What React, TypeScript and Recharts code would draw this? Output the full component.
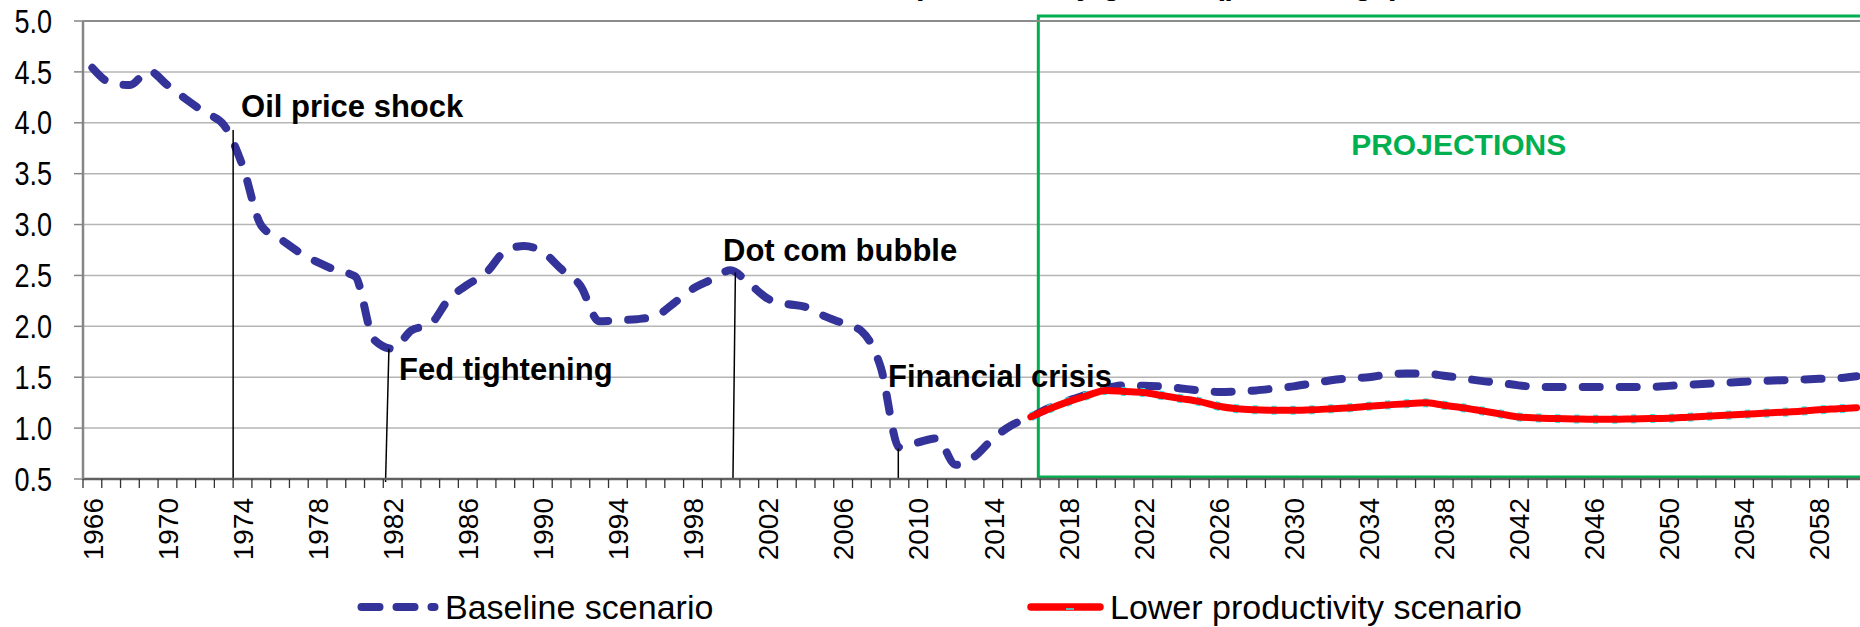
import { LineChart, Line, XAxis, YAxis, CartesianGrid, ReferenceArea, ReferenceLine, ReferenceDot, Legend } from "recharts"

// baseline labour productivity growth, one value per year from 1966
const baseline = [
    4.54, 4.39, 4.37, 4.51, 4.37, 4.23, 4.10, 3.98, 3.58, 2.99,
    2.86, 2.73, 2.63, 2.55, 2.49, 1.87, 1.78, 1.96, 2.02, 2.27,
    2.41, 2.53, 2.74, 2.79, 2.73, 2.56, 2.40, 2.05, 2.06, 2.07,
    2.10, 2.23, 2.37, 2.46, 2.55, 2.42, 2.27, 2.22, 2.19, 2.10,
    2.03, 1.95, 1.60, 0.81, 0.86, 0.90, 0.64, 0.72, 0.90, 1.03,
    1.11, 1.20, 1.27, 1.33, 1.39, 1.42, 1.415, 1.41, 1.39, 1.37,
    1.355, 1.36, 1.37, 1.39, 1.41, 1.44, 1.47, 1.49, 1.50, 1.527,
    1.537, 1.537, 1.515, 1.49, 1.464, 1.445, 1.42, 1.405, 1.405, 1.405,
    1.405, 1.405, 1.405, 1.405, 1.415, 1.425, 1.435, 1.445, 1.455, 1.464,
    1.47, 1.477, 1.484, 1.49, 1.51
]

// lower productivity scenario starts in 2016
const lowerStart = 2016
const lowerProductivity = [
    1.11, 1.19, 1.26, 1.32, 1.37, 1.36, 1.35, 1.32, 1.29, 1.26,
    1.215, 1.19, 1.18, 1.175, 1.175, 1.18, 1.19, 1.20, 1.215, 1.228,
    1.24, 1.248, 1.225, 1.20, 1.17, 1.14, 1.11, 1.10, 1.094, 1.09,
    1.087, 1.087, 1.09, 1.094, 1.097, 1.107, 1.117, 1.127, 1.136, 1.146,
    1.156, 1.166, 1.18, 1.19, 1.20
]

const firstYear = 1966
const years = baseline.map((_, i) => firstYear + i)
const yTicks = [0.5, 1.0, 1.5, 2.0, 2.5, 3.0, 3.5, 4.0, 4.5, 5.0]

const annotations = [
    { text: "Oil price shock", top: { x: 1973.5, y: 3.93 }, bottom: { x: 1973.5, y: 0.5 }, at: { x: 1973.92, y: 4.06 } },
    { text: "Fed tightening", top: { x: 1981.8, y: 1.78 }, bottom: { x: 1981.62, y: 0.47 }, at: { x: 1982.34, y: 1.47 } },
    { text: "Dot com bubble", top: { x: 2000.26, y: 2.53 }, bottom: { x: 2000.13, y: 0.5 }, at: { x: 1999.6, y: 2.64 } },
    { text: "Financial crisis", top: { x: 2008.94, y: 0.8 }, bottom: { x: 2008.94, y: 0.5 }, at: { x: 2008.39, y: 1.4 } },
]

const data = years.map((year, i) => ({
    year,
    baseline: baseline[i],
    lower: year >= lowerStart ? lowerProductivity[year - lowerStart] : null,
}))

const CHART_W = 1900
const CHART_H = 627
const PLOT_LEFT = 83
const PLOT_RIGHT = 1866
const PLOT_BOTTOM = 479
const Y_AXIS_W = 70
const X_AXIS_H = 120
const BAND = (PLOT_RIGHT - PLOT_LEFT) / years.length
const FONT = "'Liberation Sans', Arial, sans-serif"
const NAVY = "#333399"
const GREEN = "#00B050"

function XTick(props: any) {
    const { x, y, payload } = props
    const year = payload.value
    const left = x - BAND / 2
    return (
        <g>
            <line x1={left} y1={y} x2={left} y2={y + 9} stroke="#333" strokeWidth={1.3} />
            {(year - firstYear) % 4 === 0 && (
                <text
                    transform={`translate(${x},${y + 19}) rotate(-90) scale(1.12,1.14)`}
                    textAnchor="end"
                    dy="0.36em"
                    fontSize={25}
                    fill="#000"
                >
                    {year}
                </text>
            )}
        </g>
    )
}

function YTick(props: any) {
    const { x, y, payload } = props
    return (
        <text
            transform={`translate(${x},${y}) scale(1.04,1.25)`}
            textAnchor="end"
            dy="0.36em"
            fontSize={26}
            fill="#000"
        >
            {Number(payload.value).toFixed(1)}
        </text>
    )
}

function LegendContent() {
    return (
        <svg width={1860} height={42} style={{ display: "block", fontFamily: FONT }}>
            <line x1={361.5} x2={434.5} y1={22} y2={22} stroke={NAVY} strokeWidth={8} strokeDasharray="18 17" strokeLinecap="round" />
            <text x={445} y={34} fontSize={34} fill="#000">Baseline scenario</text>
            <line x1={1031} x2={1100} y1={22} y2={22} stroke="#FF0000" strokeWidth={7.5} strokeLinecap="round" />
            <line x1={1066} x2={1074} y1={24} y2={24} stroke="#33E6E6" strokeWidth={1.6} />
            <text x={1110} y={34} fontSize={34} fill="#000">Lower productivity scenario</text>
        </svg>
    )
}

export default function App() {
    return (
        <div style={{ position: "fixed", left: 0, top: 0, width: 1860, height: 627, overflow: "hidden", background: "#fff", fontFamily: FONT }}>
            <svg width={1860} height={12} style={{ position: "absolute", left: 0, top: 0, zIndex: 2 }}>
                <text x={1400} y={-6} textAnchor="end" fontSize={31} fontWeight="bold" fill="#000" fontFamily={FONT}>
                    Labour productivity growth (percentage)
                </text>
            </svg>
            <LineChart
                width={CHART_W}
                height={CHART_H}
                data={data}
                margin={{ top: 21, right: CHART_W - PLOT_RIGHT, left: PLOT_LEFT - Y_AXIS_W, bottom: CHART_H - PLOT_BOTTOM - X_AXIS_H }}
            >
                <CartesianGrid vertical={false} stroke="#B5B5B5" strokeWidth={1.5} />
                <XAxis
                    dataKey="year"
                    type="number"
                    domain={[1965.5, 2060.5]}
                    ticks={years}
                    interval={0}
                    tickLine={false}
                    tickSize={0}
                    tickMargin={0}
                    height={X_AXIS_H}
                    axisLine={{ stroke: "#606060", strokeWidth: 2.5 }}
                    tick={<XTick />}
                />
                <YAxis
                    domain={[0.5, 5]}
                    ticks={yTicks}
                    interval={0}
                    width={Y_AXIS_W}
                    axisLine={{ stroke: "#868686", strokeWidth: 2.5 }}
                    tickLine={{ stroke: "#868686", strokeWidth: 1.5 }}
                    tickSize={9}
                    tickMargin={22}
                    tick={<YTick />}
                    allowDataOverflow
                />
                <ReferenceLine y={5} stroke="#8C8C8C" strokeWidth={2} />
                <ReferenceArea
                    x1={2016.4}
                    x2={2061}
                    y1={0.52}
                    y2={5.05}
                    fill="none"
                    stroke={GREEN}
                    strokeWidth={3}
                    ifOverflow="visible"
                />
                <Line
                    type="monotone"
                    dataKey="baseline"
                    stroke={NAVY}
                    strokeWidth={8}
                    strokeDasharray="17 20"
                    strokeLinecap="round"
                    dot={false}
                    isAnimationActive={false}
                />
                <Line
                    type="monotone"
                    dataKey="lower"
                    stroke="#33E6E6"
                    strokeWidth={9}
                    strokeDasharray="5 14"
                    dot={false}
                    isAnimationActive={false}
                />
                <Line
                    type="monotone"
                    dataKey="lower"
                    stroke="#FF0000"
                    strokeWidth={7}
                    strokeLinecap="round"
                    dot={false}
                    isAnimationActive={false}
                />
                {annotations.map((a) => (
                    <ReferenceLine
                        key={`line-${a.text}`}
                        segment={[a.top, a.bottom]}
                        stroke="#000"
                        strokeWidth={1.5}
                        ifOverflow="visible"
                    />
                ))}
                {annotations.map((a) => (
                    <ReferenceDot
                        key={`label-${a.text}`}
                        x={a.at.x}
                        y={a.at.y}
                        r={1}
                        shape={(p: any) => (
                            <text x={p.cx} y={p.cy} fontSize={31} fontWeight="bold" fill="#000">
                                {a.text}
                            </text>
                        )}
                    />
                ))}
                <ReferenceDot
                    x={2038.8}
                    y={3.685}
                    r={1}
                    shape={(p: any) => (
                        <text x={p.cx} y={p.cy} textAnchor="middle" fontSize={30} fontWeight="bold" fill={GREEN}>
                            PROJECTIONS
                        </text>
                    )}
                />
                <Legend
                    layout="horizontal"
                    verticalAlign="middle"
                    align="center"
                    wrapperStyle={{ top: 585, left: 0, width: 1860, height: 42 }}
                    content={() => <LegendContent />}
                />
            </LineChart>
        </div>
    )
}
